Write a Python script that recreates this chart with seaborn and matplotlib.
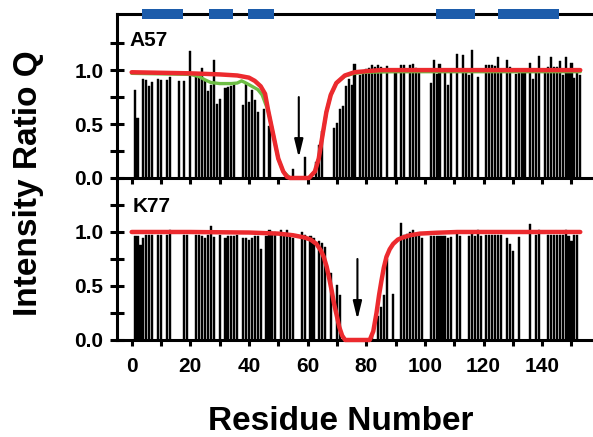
import numpy as np
import pandas as pd
import matplotlib
matplotlib.use("Agg")
import matplotlib.pyplot as plt
import seaborn as sns
from matplotlib.patches import Rectangle
from matplotlib.ticker import FixedLocator, MultipleLocator

nan = np.nan

# residue numbers
residues = list(range(1, 154))

# intensity ratio Q, spin label at A57 (nan = no data for that residue)
q_a57 = [0.82, 0.56, nan, 0.92, 0.91, 0.85, 0.89, nan, 0.92, 0.91,
         nan, 0.91, 0.94, nan, nan, 0.90, nan, 0.90, nan, 1.18,
         nan, 0.97, 0.95, 1.02, 0.90, 0.81, 0.86, 1.09, 0.69, 0.73,
         nan, 0.83, 0.84, 0.85, 0.87, nan, nan, 0.68, 0.88, 0.70,
         0.82, 0.72, 0.61, nan, 0.64, nan, 0.48, nan, nan, nan,
         nan, nan, nan, nan, 0.08, nan, nan, nan, 0.19, nan,
         nan, nan, 0.15, 0.31, 0.44, nan, nan, nan, 0.46, 0.51,
         0.64, 0.67, 0.85, 0.92, 0.86, 1.06, nan, 0.95, 0.98, 1.01,
         1.02, 1.05, 1.03, 1.05, 1.03, nan, 1.04, nan, nan, 0.97,
         nan, 1.05, 1.05, nan, 1.05, 1.06, 1.02, 0.98, nan, nan,
         nan, 0.88, 1.09, 0.96, 1.06, nan, 0.97, 0.86, 0.97, nan,
         1.15, nan, 1.14, 1.00, 0.95, 1.19, nan, 0.94, nan, nan,
         1.05, 1.05, 1.05, 1.04, 1.12, 0.97, nan, 1.09, 1.03, nan,
         0.96, 0.98, 0.98, 0.98, nan, 1.07, 0.92, 0.98, 1.13, nan,
         0.98, 1.03, 1.12, 1.03, 1.03, 1.08, 0.95, 1.12, 1.00, 1.07,
         0.93, 0.98, 0.95]

# intensity ratio Q, spin label at K77
q_k77 = [0.96, 0.96, 0.88, 0.94, 0.97, 0.97, 0.97, nan, 0.97, 0.97,
         nan, 0.97, 1.02, nan, nan, nan, nan, 0.97, 0.97, nan,
         nan, 0.97, 0.97, 0.96, 0.94, 0.97, 1.06, 0.95, nan, 0.97,
         nan, 0.94, 0.96, 0.96, 0.96, 0.97, nan, 0.94, 0.94, 0.93,
         0.94, 0.96, 0.96, 0.84, nan, 0.96, 1.02, 1.00, 1.00, nan,
         1.02, 0.99, 1.02, 0.96, 0.94, nan, nan, 1.00, 0.97, nan,
         0.96, 0.94, nan, 0.92, 0.90, 0.86, nan, 0.62, nan, 0.51,
         0.42, nan, nan, nan, nan, nan, nan, nan, nan, nan,
         nan, 0.05, nan, 0.22, 0.31, 0.42, 0.75, nan, 0.43, nan,
         nan, 1.08, 0.97, 0.98, 1.00, 1.02, 0.98, 0.97, 0.94, nan,
         nan, 0.96, 0.96, 0.96, 0.96, 0.96, 0.96, 0.94, 0.95, nan,
         1.01, 0.96, nan, nan, 0.96, 1.01, 0.96, 1.02, 0.96, nan,
         0.97, 0.97, 0.97, 0.97, 0.97, 0.97, nan, 0.94, 0.89, 0.82,
         nan, 0.95, nan, nan, nan, 1.07, nan, 0.97, 1.02, nan,
         nan, 0.97, 0.97, 0.97, 0.97, 0.97, 0.97, 1.02, 0.96, 0.92,
         0.97, 0.97, nan]

# fitted curves
fit_a57_x = [0, 10, 20, 30, 36, 40, 42, 44, 45.5, 46.6, 48.3, 50, 51.7, 53, 54,
             60.5, 62.5, 63.8, 65.3, 66.4, 67.9, 69.8, 72.7, 76, 80, 85, 100, 130, 153]
fit_a57_y = [0.98, 0.975, 0.97, 0.96, 0.95, 0.93, 0.90, 0.85, 0.78, 0.62, 0.40, 0.18, 0.06, 0.01, 0.0,
             0.0, 0.06, 0.18, 0.43, 0.61, 0.77, 0.88, 0.95, 0.98, 0.99, 1.0, 1.0, 1.0, 1.0]

fit2_a57_x = [0, 10, 20, 23, 25, 27, 30, 34, 36, 37.5, 39, 41, 43, 44.5, 46.6, 48.3, 50, 51.7, 54,
              60.5, 62.5, 63.8, 65.3, 66.4, 67.9, 69.8, 72.7, 76, 80, 90, 153]
fit2_a57_y = [0.97, 0.965, 0.96, 0.94, 0.91, 0.885, 0.875, 0.875, 0.88, 0.90, 0.88, 0.85, 0.82, 0.77, 0.62, 0.40, 0.18, 0.06, 0.0,
              0.0, 0.06, 0.18, 0.43, 0.61, 0.77, 0.88, 0.945, 0.97, 0.98, 0.985, 0.985]

fit_k77_x = [0, 20, 40, 50, 55, 58.8, 61, 63, 64.5, 65.5, 66.5, 67.3, 68.2, 69, 70, 70.8, 71.8, 72.8,
             81.2, 82.4, 83.5, 84.4, 85.2, 86, 86.9, 88, 89.2, 90.8, 92.6, 95, 98.3, 104, 111, 130, 153]
fit_k77_y = [1.0, 1.0, 0.995, 0.985, 0.97, 0.95, 0.93, 0.89, 0.83, 0.77, 0.68, 0.58, 0.46, 0.34, 0.22, 0.12, 0.04, 0.0,
             0.0, 0.08, 0.25, 0.42, 0.55, 0.67, 0.77, 0.84, 0.89, 0.93, 0.95, 0.97, 0.985, 0.993, 1.0, 1.0, 1.0]

# helices (secondary structure) start / end residues
helix_start = [3.4, 26.4, 39.7, 103.9, 124.9]
helix_end = [17.6, 34.6, 48.5, 117.0, 145.9]

RED = "#ec2a2e"
GREEN = "#6dbe45"
BLUE = "#1c5cab"

sns.set_style("ticks")
plt.rcParams["font.family"] = ["Liberation Sans", "DejaVu Sans"]
plt.rcParams["font.weight"] = "bold"
for k in ["text.color", "axes.labelcolor", "xtick.color", "ytick.color", "axes.edgecolor"]:
    plt.rcParams[k] = "black"

fig = plt.figure(figsize=(5.93, 4.37), dpi=100)
ax1 = fig.add_axes([0.1973, 0.5927, 0.801, 0.3753])
ax2 = fig.add_axes([0.1973, 0.2220, 0.801, 0.3707])


def draw_panel(ax, q, label, label_pos, arrow_res, ymax):
    df = pd.DataFrame({"res": residues, "q": q}).dropna()
    sns.barplot(data=df, x="res", y="q", native_scale=True, color="black",
                saturation=1, width=0.72, linewidth=0.3, edgecolor="black",
                errorbar=None, ax=ax)
    ax.annotate("", xy=(arrow_res, 0.19), xytext=(arrow_res, 0.75),
                arrowprops=dict(arrowstyle="-|>,head_length=0.9,head_width=0.22",
                                color="black", lw=1.5, mutation_scale=12,
                                shrinkA=0, shrinkB=0))
    ax.text(label_pos[0], label_pos[1], label, fontsize=15, fontweight="bold",
            va="baseline", ha="left")
    ax.set_xlim(-5, 157)
    ax.set_ylim(0, ymax)
    ax.xaxis.set_major_locator(MultipleLocator(20))
    ax.xaxis.set_minor_locator(MultipleLocator(10))
    ax.yaxis.set_major_locator(FixedLocator([0.0, 0.5, 1.0]))
    ax.yaxis.set_minor_locator(FixedLocator([0.25, 0.75, 1.25]))
    ax.tick_params(axis="y", which="both", direction="inout", length=9.4,
                   width=2.2, labelsize=15, pad=5)
    ax.tick_params(axis="x", which="both", direction="out", length=4.5,
                   width=2.2, labelsize=15, pad=8)
    ax.set_xlabel("")
    ax.set_ylabel("")
    for s in ax.spines.values():
        s.set_linewidth(2.2)
    ax.spines["right"].set_visible(False)
    ax.patch.set_alpha(0)


draw_panel(ax1, q_a57, "A57", (-0.6, 1.22), 57, 1.52)
draw_panel(ax2, q_k77, "K77", (0.4, 1.185), 77, 1.5)

sns.lineplot(x=fit2_a57_x, y=fit2_a57_y, color=GREEN, lw=2.4, sort=False,
             estimator=None, ax=ax1, clip_on=False, zorder=3)
sns.lineplot(x=fit_a57_x, y=fit_a57_y, color=RED, lw=3.2, sort=False,
             estimator=None, ax=ax1, clip_on=False, zorder=4)
sns.lineplot(x=fit_k77_x, y=fit_k77_y, color=RED, lw=3.2, sort=False,
             estimator=None, ax=ax2, clip_on=False, zorder=4)

ax1.tick_params(labelbottom=False)
ax2.spines["top"].set_visible(False)

# secondary structure boxes on the top line
for s, e in zip(helix_start, helix_end):
    ax1.add_patch(Rectangle((s, 0.97), e - s, 0.062, transform=ax1.get_xaxis_transform(),
                            color=BLUE, clip_on=False, zorder=5, lw=0))

for ax in (ax1, ax2):
    ax.set_xlim(-5, 157)

fig.text(340.5 / 593, 1 - 430 / 437, "Residue Number", fontsize=24,
         fontweight="bold", ha="center", va="baseline")
fig.text(28.5 / 593, 1 - 183.5 / 437, "Intensity Ratio Q", fontsize=24,
         fontweight="bold", ha="center", va="center", rotation=90)

fig.savefig("out.png", dpi=100)
